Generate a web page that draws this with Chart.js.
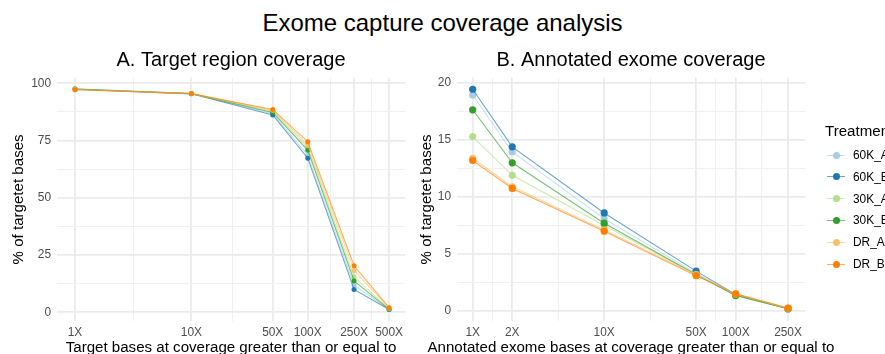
<!DOCTYPE html>
<html>
<head>
<meta charset="utf-8">
<script src="https://cdn.jsdelivr.net/npm/chart.js@4/dist/chart.umd.min.js"></script>
<style>
  html, body { margin: 0; padding: 0; background: #fff; }
  body { width: 885px; height: 354px; position: relative; overflow: hidden; font-family: "Liberation Sans", Arial, sans-serif; }
  #mainTitle { position: absolute; left: 0; top: 11px; width: 885px; text-align: center; font-size: 24px; line-height: 24px; color: #000; white-space: nowrap; }
  #wrapA { position: absolute; left: 0; top: 0; width: 420px; height: 354px; }
  #wrapB { position: absolute; left: 410px; top: 0; width: 400px; height: 354px; }
  .xtitle { position: absolute; top: 339px; width: 600px; text-align: center; font-size: 15.1px; line-height: 16px; color: #000; white-space: nowrap; }
  #legend { position: absolute; left: 825px; top: 0; width: 60px; height: 354px; }
  .lg-title { position: absolute; left: 0; top: 123px; font-size: 15.1px; line-height: 16px; color: #000; white-space: nowrap; }
  .lg-item { position: absolute; left: 0; height: 16px; width: 80px; }
  .lg-line { position: absolute; left: 1.5px; top: 7.5px; width: 18.5px; height: 1.2px; }
  .lg-dot { position: absolute; left: 7.5px; top: 4.5px; width: 7px; height: 7px; border-radius: 50%; }
  .lg-text { position: absolute; left: 28px; top: 0; font-size: 11.9px; line-height: 16px; color: #000; white-space: nowrap; }
</style>
</head>
<body>
<div id="mainTitle">Exome capture coverage analysis</div>
<div id="wrapA"><canvas id="chartA" width="420" height="354"></canvas></div>
<div id="wrapB"><canvas id="chartB" width="400" height="354"></canvas></div>
<div class="xtitle" style="left:-69px">Target bases at coverage greater than or equal to</div>
<div class="xtitle" style="left:331px">Annotated exome bases at coverage greater than or equal to</div>
<div id="legend"></div>
<script>
// ---- Data ----
const seriesNames = ['60K_A', '60K_B', '30K_A', '30K_B', 'DR_A', 'DR_B'];
const seriesColors = ['#A6CEE3', '#1F78B4', '#B2DF8A', '#33A02C', '#FDBF6F', '#FF7F00'];

// Panel A: target region coverage
const coverageA = [1, 10, 50, 100, 250, 500];
const tickLabelsA = ['1X', '10X', '50X', '100X', '250X', '500X'];
const a60K_A = [97.6, 95.5, 86.8, 68.5, 11.8, 1.3];
const a60K_B = [97.4, 95.4, 86.2, 67.3, 10.0, 1.2];
const a30K_A = [97.5, 95.5, 87.8, 72.0, 15.5, 1.4];
const a30K_B = [97.5, 95.5, 87.3, 70.8, 13.7, 1.3];
const aDR_A  = [97.3, 95.5, 88.2, 73.2, 18.3, 1.8];
const aDR_B  = [97.2, 95.5, 88.6, 74.5, 20.3, 2.0];

// Panel B: annotated exome coverage
const coverageB = [1, 2, 10, 50, 100, 250];
const tickLabelsB = ['1X', '2X', '10X', '50X', '100X', '250X'];
const b60K_A = [18.95, 13.95, 8.1, 3.3, 1.4, 0.2];
const b60K_B = [19.45, 14.4, 8.6, 3.5, 1.45, 0.2];
const b30K_A = [15.3, 11.9, 7.5, 3.2, 1.4, 0.2];
const b30K_B = [17.65, 13.0, 7.7, 3.2, 1.35, 0.2];
const bDR_A  = [13.4, 10.9, 7.1, 3.2, 1.5, 0.25];
const bDR_B  = [13.2, 10.75, 7.0, 3.1, 1.5, 0.25];

const yTicksA = [0, 25, 50, 75, 100];
const yTicksB = [0, 5, 10, 15, 20];

const seriesA = [a60K_A, a60K_B, a30K_A, a30K_B, aDR_A, aDR_B];
const seriesB = [b60K_A, b60K_B, b30K_A, b30K_B, bDR_A, bDR_B];

// ---- Helpers ----
const FONT = '"Liberation Sans", Arial, sans-serif';
const MAJOR = '#ebebeb', MINOR = '#f0f0f0';

function hexA(hex, a) {
  const n = parseInt(hex.slice(1), 16);
  return `rgba(${(n >> 16) & 255},${(n >> 8) & 255},${n & 255},${a})`;
}
function logMinor(vals) {
  const out = [];
  for (let i = 0; i < vals.length; i++) {
    out.push({ value: vals[i], major: true });
    if (i < vals.length - 1) out.push({ value: Math.sqrt(vals[i] * vals[i + 1]), major: false });
  }
  return out;
}
function linMinor(vals) {
  const out = [];
  for (let i = 0; i < vals.length; i++) {
    out.push({ value: vals[i], major: true });
    if (i < vals.length - 1) out.push({ value: (vals[i] + vals[i + 1]) / 2, major: false });
  }
  return out;
}

function makeChart(id, xs, xLabels, series, yTicks, cfg) {
  const datasets = series.map((vals, i) => ({
    label: seriesNames[i],
    data: xs.map((x, j) => ({ x: x, y: vals[j] })),
    borderColor: hexA(seriesColors[i], 0.65),
    backgroundColor: seriesColors[i],
    pointBackgroundColor: seriesColors[i],
    pointBorderWidth: 0,
    pointRadius: cfg.pointRadius,
    borderWidth: 1.1,
    tension: 0,
    order: series.length - i
  }));
  const xTickObjs = logMinor(xs);
  const yTickObjs = linMinor(yTicks);
  return new Chart(document.getElementById(id), {
    type: 'line',
    data: { datasets },
    options: {
      responsive: false,
      animation: false,
      events: [],
      layout: { padding: { left: 0, right: cfg.padRight, top: 0, bottom: 0 } },
      plugins: {
        legend: { display: false },
        tooltip: { enabled: false },
        title: {
          display: true, text: cfg.title, fullSize: false,
          color: '#000', font: { family: FONT, size: 20, weight: 'normal', lineHeight: 1.2 },
          padding: { top: 48, bottom: 5.8 }
        }
      },
      scales: {
        x: {
          type: 'logarithmic', min: cfg.xMin, max: cfg.xMax,
          afterBuildTicks: s => { s.ticks = xTickObjs.map(t => ({ value: t.value, major: t.major })); },
          afterFit: s => { s.height = 33; },
          ticks: {
            autoSkip: false, maxRotation: 0, padding: 5, color: '#4d4d4d',
            font: { family: FONT, size: 11.9 },
            callback: v => { const k = xs.indexOf(v); return k >= 0 ? xLabels[k] : ''; }
          },
          grid: {
            drawTicks: false,
            color: c => (c.tick && xs.indexOf(c.tick.value) >= 0) ? MAJOR : MINOR,
            lineWidth: c => (c.tick && xs.indexOf(c.tick.value) >= 0) ? 1.8 : 1.0
          },
          border: { display: false },
          title: { display: false }
        },
        y: {
          type: 'linear', min: cfg.yMin, max: cfg.yMax,
          afterBuildTicks: s => { s.ticks = yTickObjs.map(t => ({ value: t.value, major: t.major })); },
          afterFit: s => { s.width = cfg.yWidth; },
          ticks: {
            autoSkip: false, padding: 6, color: '#4d4d4d',
            font: { family: FONT, size: 11.9 },
            callback: v => yTicks.indexOf(v) >= 0 ? String(v) : ''
          },
          grid: {
            drawTicks: false,
            color: c => (c.tick && yTicks.indexOf(c.tick.value) >= 0) ? MAJOR : MINOR,
            lineWidth: c => (c.tick && yTicks.indexOf(c.tick.value) >= 0) ? 1.8 : 1.0
          },
          border: { display: false },
          title: {
            display: true, text: '% of targetet bases', color: '#000',
            font: { family: FONT, size: 15.1, lineHeight: 1 }, padding: { top: cfg.yTitlePad, bottom: 0 }
          }
        }
      }
    }
  });
}

makeChart('chartA', coverageA, tickLabelsA, seriesA, yTicksA, {
  title: 'A. Target region coverage',
  xMin: 0.73, xMax: 685, yMin: -3.8, yMax: 102.4,
  yWidth: 57, padRight: 15, yTitlePad: 11.4, pointRadius: 2.5
});
makeChart('chartB', coverageB, tickLabelsB, seriesB, yTicksB, {
  title: 'B. Annotated exome coverage',
  xMin: 0.76, xMax: 336.5, yMin: -0.877, yMax: 20.456,
  yWidth: 47, padRight: 5, yTitlePad: 9.1, pointRadius: 3.6
});

// ---- Legend ----
const lg = document.getElementById('legend');
const t = document.createElement('div');
t.className = 'lg-title'; t.textContent = 'Treatment';
lg.appendChild(t);
seriesNames.forEach((name, i) => {
  const it = document.createElement('div');
  it.className = 'lg-item';
  it.style.top = (147 + i * 21.8) + 'px';
  const ln = document.createElement('div'); ln.className = 'lg-line'; ln.style.background = hexA(seriesColors[i], 0.65);
  const dt = document.createElement('div'); dt.className = 'lg-dot'; dt.style.background = seriesColors[i];
  const tx = document.createElement('div'); tx.className = 'lg-text'; tx.textContent = name;
  it.appendChild(ln); it.appendChild(dt); it.appendChild(tx);
  lg.appendChild(it);
});
</script>
</body>
</html>
